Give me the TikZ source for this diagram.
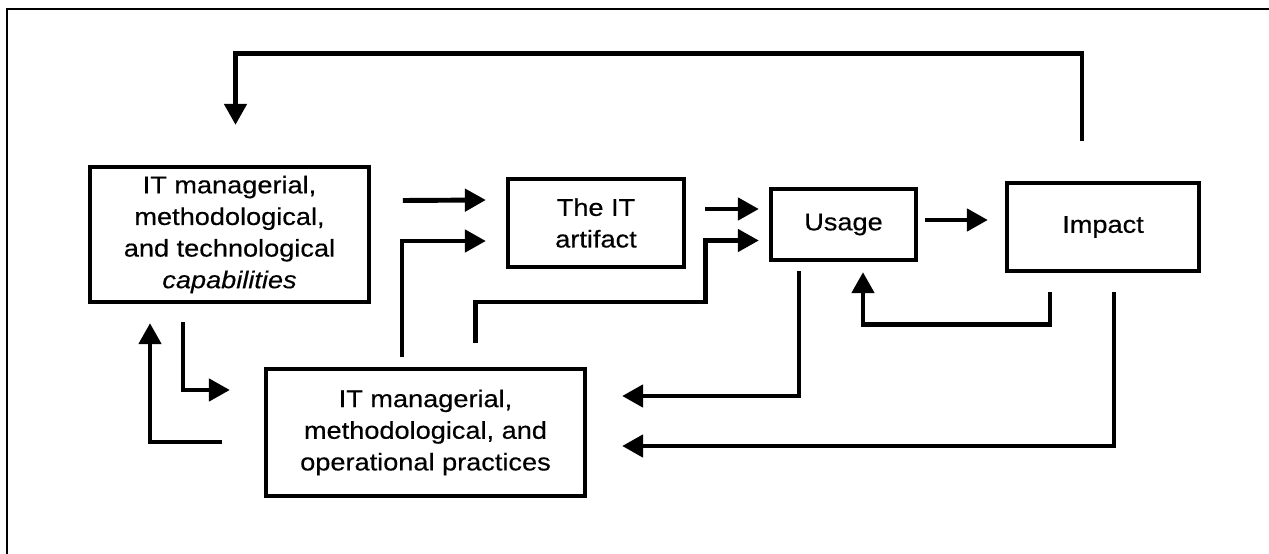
\documentclass[tikz,border=0pt]{standalone}
\usepackage{fontspec}
\setmainfont{Liberation Sans}[FakeStretch=1.12,FakeBold=0.4]
\usetikzlibrary{arrows.meta,calc}

\begin{document}
\begin{tikzpicture}[x=0.02cm,y=-0.02cm,
  box/.style={draw,line width=2.4pt,align=center,inner sep=0pt,font=\fontsize{13.8}{18}\selectfont},
  arr/.style={line width=2.8pt,-{Triangle[length=12pt,width=12.5pt]}}]
\useasboundingbox (0,0) rectangle (1269,554);
\draw[line width=1.2pt] (7,580) -- (7,9) -- (1290,9);
% boxes
\node[box,minimum width=5.57cm,minimum height=2.7cm] (cap) at (229.5,234.5) {IT managerial,\\methodological,\\and technological\\\textit{capabilities}};
\node[box,minimum width=3.52cm,minimum height=1.76cm] (art) at (596,223) {The IT\\artifact};
\node[box,minimum width=2.9cm,minimum height=1.42cm] (use) at (843.5,224.5) {Usage};
\node[box,minimum width=3.84cm,minimum height=1.76cm] (imp) at (1103,227) {Impact};
\node[box,minimum width=6.38cm,minimum height=2.54cm] (prac) at (425.5,432.5) {IT managerial,\\methodological, and\\operational practices};
% arrows
\draw[arr] ($(imp.north)+(-21,-40)$) -- ++(0,-87) -| ($(cap.north)+(6,-40)$);
\draw[arr] ($(cap.east)+(32,-34)$) -- ($(art.west)+(-20,-23)$);
\draw[arr] ($(prac.north)+(-23.5,-10)$) |- ($(art.west)+(-20,18)$);
\draw[arr] ($(prac.north)+(50,-24)$) |- ($(art.east)+(19,79)$) |- ($(use.west)+(-10,16)$);
\draw[arr] ($(art.east)+(19,-14)$) -- ($(use.west)+(-10,-15.5)$);
\draw[arr] ($(use.east)+(7,-4.5)$) -- ($(imp.west)+(-17,-7)$);
\draw[arr] ($(imp.south)+(-53,19)$) -- ++(0,32) -| ($(use.south)+(19.5,10)$);
\draw[arr] ($(use.south)+(-44.5,9)$) |- ($(prac.east)+(35,-36.5)$);
\draw[arr] ($(imp.south)+(11,19)$) |- ($(prac.east)+(35,13.5)$);
\draw[arr] ($(cap.south)+(-46.5,18)$) |- ($(prac.west)+(-34,-42.5)$);
\draw[arr] ($(prac.west)+(-42,9.5)$) -| ($(cap.south)+(-79.5,19)$);
\end{tikzpicture}
\end{document}
